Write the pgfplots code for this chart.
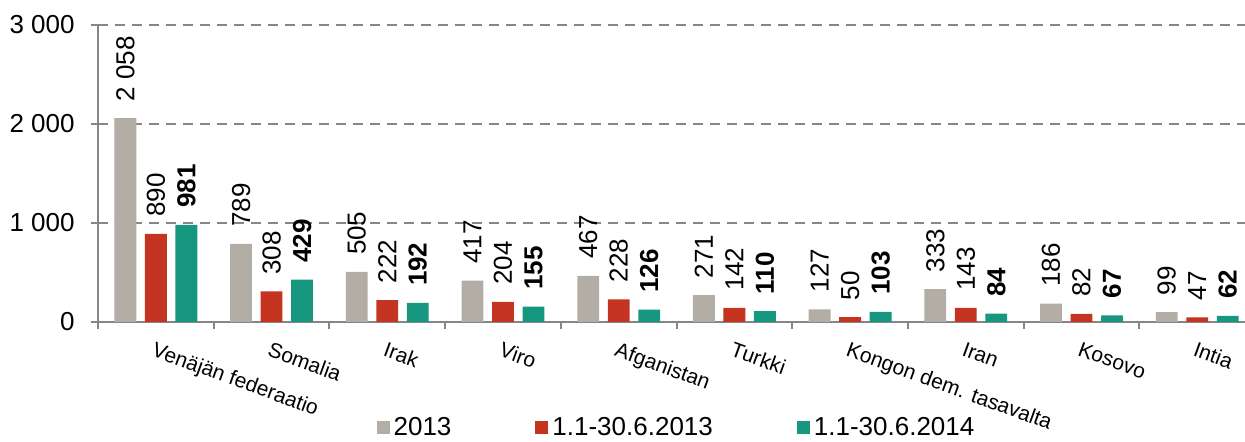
\documentclass[border=0pt]{standalone}
\usepackage{pgfplots}
\pgfplotsset{compat=1.18}
\usepackage{fontspec}
\setmainfont{Liberation Sans}
\usetikzlibrary{calc}
\definecolor{cgrey}{RGB}{178,174,166}
\definecolor{cred}{RGB}{196,52,32}
\definecolor{cteal}{RGB}{23,150,128}
\definecolor{caxis}{RGB}{134,134,134}
\begin{document}
\begin{tikzpicture}
\begin{axis}[
  scale only axis, width=573.5pt, height=148.5pt,
  xmin=-0.5, xmax=9.413, ymin=0, ymax=3000,
  clip=false,
  axis x line*=bottom, axis y line*=left,
  axis line style={caxis, line width=1pt},
  ybar, bar width=10.9pt,
  xtick={0,...,9},
  xticklabels={Venäjän federaatio, Somalia, Irak, Viro, Afganistan, Turkki, Kongon dem. tasavalta, Iran, Kosovo, Intia},
  minor xtick={-0.5,0.5,...,9.5},
  major x tick style={draw=none},
  ytick={0,1000,2000,3000},
  tick align=outside,
  major tick length=3.5pt, minor tick length=3.5pt,
  tick style={caxis, line width=1pt},
  ymajorgrids,
  grid style={caxis, line width=1pt, dash pattern=on 5pt off 3.5pt},
  /pgf/number format/.cd, 1000 sep={\ }, assume math mode=true, /pgfplots/.cd,
  yticklabel style={font=\fontsize{13}{13}\selectfont, inner xsep=0pt, xshift=-8pt},
  xticklabel style={font=\fontsize{10.5}{12}\selectfont, inner sep=0pt, anchor=north west, yshift=-6pt, rotate=-20},
  nodes near coords,
  every node near coord/.append style={font=\fontsize{13}{13}\selectfont, rotate=90, anchor=west, inner sep=0pt, outer xsep=8.5pt, black},
  legend style={at={(0.5,0)}, anchor=center, yshift=-53pt, xshift=3pt, draw=none, fill=none,
    legend columns=3, font=\fontsize{13}{15}\selectfont,
    /tikz/every even column/.append style={column sep=40pt}},
  legend image code/.code={\fill[#1] (0pt,-3.25pt) rectangle (6.5pt,3.25pt);},
]
\addplot[fill=cgrey, draw=none, bar shift=-15.25pt] coordinates {(0,2058) (1,789) (2,505) (3,417) (4,467) (5,271) (6,127) (7,333) (8,186) (9,99)};
\addplot[fill=cred, draw=none, bar shift=0pt] coordinates {(0,890) (1,308) (2,222) (3,204) (4,228) (5,142) (6,50) (7,143) (8,82) (9,47)};
\addplot[fill=cteal, draw=none, bar shift=15.25pt, every node near coord/.append style={font=\bfseries\fontsize{13}{13}\selectfont}] coordinates {(0,981) (1,429) (2,192) (3,155) (4,126) (5,110) (6,103) (7,84) (8,67) (9,62)};
\legend{2013, 1.1-30.6.2013, 1.1-30.6.2014}
\coordinate (bl) at (rel axis cs:0,0);
\coordinate (tr) at (rel axis cs:1,1);
\end{axis}
\pgfresetboundingbox
\path[use as bounding box] ($(bl)+(-49pt,-60pt)$) rectangle ($(tr)+(0pt,12.5pt)$);
\end{tikzpicture}
\end{document}
